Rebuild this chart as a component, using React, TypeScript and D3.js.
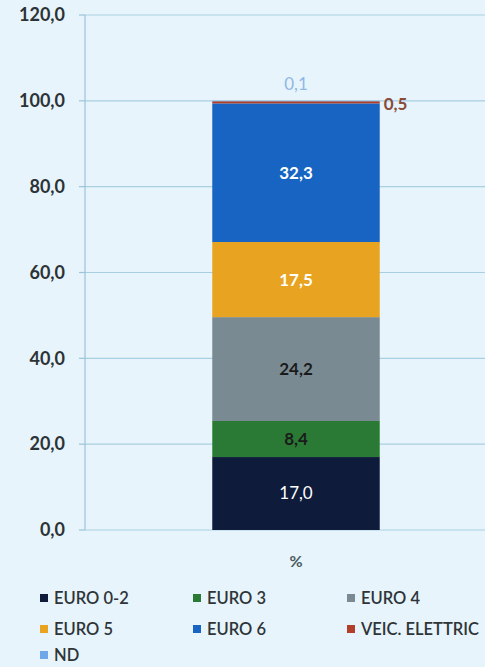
import React from "react";
import * as d3 from "d3";

const categories = ["%"];
const seriesNames = ["EURO 0-2", "EURO 3", "EURO 4", "EURO 5", "EURO 6", "VEIC. ELETTRIC", "ND"];
const seriesValues = [17.0, 8.4, 24.2, 17.5, 32.3, 0.5, 0.1];
const seriesColors = ["#0e1b3b", "#2a7a35", "#798a92", "#e8a420", "#1764c2", "#b0402a", "#6ea8ea"];
const labelColors = ["#ffffff", "#1a1a1a", "#1a1a1a", "#ffffff", "#ffffff", "#8a4a3a", "#8fb8e6"];
const labelBold = [false, true, true, true, true, true, false];
const yTicks = [0, 20, 40, 60, 80, 100, 120];

const W = 485;
const H = 667;
const FONT = "Lato, 'Open Sans', sans-serif";

export default function App() {
  const y = d3.scaleLinear().domain([0, 120]).range([530, 15]);
  const x = d3.scaleBand().domain(categories).range([85, 507]).paddingInner(0).paddingOuter(0.76);
  const fmt = (v: number) => v.toFixed(1).replace(".", ",");

  const stackData = [
    Object.fromEntries(seriesNames.map((s, i) => [s, seriesValues[i]])),
  ];
  const stack = d3.stack<any>().keys(seriesNames)(stackData as any);

  const bx = x("%")!;
  const bw = x.bandwidth();
  const cx = bx + bw / 2;

  const legendCols = [40, 193, 347];
  const legendRows = [598, 629, 655];

  return (
    <svg
      width={W}
      height={H}
      style={{ position: "absolute", left: 0, top: 0, display: "block", background: "#e7f4fb" }}
      fontFamily={FONT}
    >
      <rect x={0} y={0} width={W} height={H} fill="#e7f4fb" />
      {yTicks.map((t) => (
        <g key={t}>
          <line x1={85} x2={W} y1={y(t)} y2={y(t)} stroke="#a9cfe2" strokeWidth={1.2} />
          <line x1={79} x2={85} y1={y(t)} y2={y(t)} stroke="#9cc3d8" strokeWidth={1.2} />
          <text x={65} y={y(t)} dy="0.35em" textAnchor="end" fontSize={18} fontWeight={700} fill="#2c3236">
            {fmt(t)}
          </text>
        </g>
      ))}
      <line x1={85} x2={85} y1={y(120)} y2={y(0)} stroke="#9cc3d8" strokeWidth={1.2} />
      {stack.map((layer, i) => {
        const [y0, y1] = layer[0];
        return (
          <rect
            key={seriesNames[i]}
            x={bx}
            width={bw}
            y={y(y1)}
            height={Math.max(0, y(y0) - y(y1))}
            fill={seriesColors[i]}
          />
        );
      })}
      {stack.map((layer, i) => {
        const [y0, y1] = layer[0];
        let tx = cx;
        let ty = (y(y0) + y(y1)) / 2;
        let anchor: any = "middle";
        if (seriesNames[i] === "VEIC. ELETTRIC") {
          tx = bx + bw + 4;
          ty = y(y1) + 3;
          anchor = "start";
        } else if (seriesNames[i] === "ND") {
          ty = y(y1) - 17;
        }
        return (
          <text
            key={"l" + i}
            x={tx}
            y={ty}
            dy="0.35em"
            textAnchor={anchor}
            fontSize={17}
            fontWeight={labelBold[i] ? 700 : 400}
            fill={labelColors[i]}
          >
            {fmt(seriesValues[i])}
          </text>
        );
      })}
      <text x={cx} y={561} dy="0.35em" textAnchor="middle" fontSize={16} fontWeight={700} fill="#4a5a60">
        {categories[0]}
      </text>
      {seriesNames.map((s, i) => {
        const lx = legendCols[i % 3];
        const ly = legendRows[Math.floor(i / 3)];
        return (
          <g key={"lg" + i}>
            <rect x={lx} y={ly - 4} width={8} height={8} fill={seriesColors[i]} />
            <text x={lx + 14} y={ly} dy="0.35em" fontSize={16.5} fontWeight={600} fill="#2e3438">
              {s}
            </text>
          </g>
        );
      })}
    </svg>
  );
}
